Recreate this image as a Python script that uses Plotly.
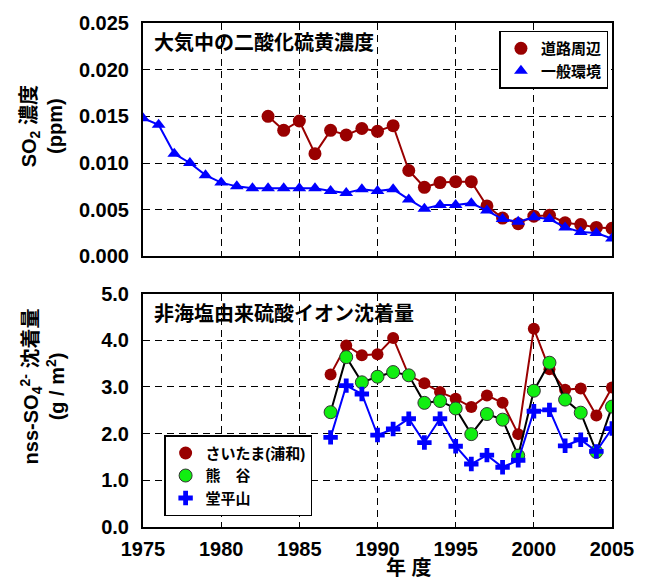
import plotly.graph_objects as go
from plotly.subplots import make_subplots

# --- SO2 concentration (ppm) ---
years_road = list(range(1983, 2006))
so2_road = [0.0150, 0.0135, 0.0145, 0.0110, 0.0135, 0.0130, 0.0137, 0.0134, 0.0140,
            0.0092, 0.0074, 0.0079, 0.0080, 0.0080, 0.0054, 0.0041, 0.0035, 0.0043,
            0.0044, 0.0036, 0.0034, 0.0031, 0.0030]
years_general = list(range(1975, 2006))
so2_general = [0.0148, 0.0141, 0.0110, 0.0100, 0.0087, 0.0079, 0.0075, 0.0073, 0.0073,
               0.0073, 0.0073, 0.0073, 0.0070, 0.0068, 0.0072, 0.0070, 0.0072, 0.0061,
               0.0051, 0.0055, 0.0055, 0.0057, 0.0049, 0.0040, 0.0037, 0.0042, 0.0040,
               0.0031, 0.0026, 0.0025, 0.0019]

# --- nss-SO4 deposition (g/m2) ---
years_dep = list(range(1987, 2006))
dep_saitama = [3.27, 3.89, 3.68, 3.70, 4.05, 3.25, 3.08, 2.89, 2.75, 2.57, 2.82, 2.66,
               1.99, 4.25, 3.38, 2.94, 2.97, 2.39, 2.99]
dep_kumagaya = [2.46, 3.64, 3.10, 3.22, 3.32, 3.25, 2.66, 2.70, 2.54, 1.99, 2.42, 2.30,
                1.53, 2.92, 3.52, 2.73, 2.45, 1.61, 2.58]
dep_dodaira = [1.92, 3.03, 2.85, 1.97, 2.10, 2.32, 1.81, 2.32, 1.73, 1.35, 1.54, 1.28,
               1.43, 2.48, 2.51, 1.74, 1.87, 1.62, 2.11]

x_ticks = [1975, 1980, 1985, 1990, 1995, 2000, 2005]
so2_ticks = [0.000, 0.005, 0.010, 0.015, 0.020, 0.025]
dep_ticks = [0.0, 1.0, 2.0, 3.0, 4.0, 5.0]

DARKRED = "#990000"
GREEN = "#11ee11"
BLUE = "#0000ff"
FONT = "Liberation Sans, Arial, Noto Sans CJK JP"

fig = make_subplots(rows=2, cols=1, vertical_spacing=0.074, shared_xaxes=False)

# top panel
fig.add_trace(go.Scatter(x=years_road, y=so2_road, mode="lines+markers",
                         line=dict(color=DARKRED, width=2),
                         marker=dict(symbol="circle", size=13, color=DARKRED),
                         showlegend=False), row=1, col=1)
fig.add_trace(go.Scatter(x=years_general, y=so2_general, mode="lines+markers",
                         line=dict(color=BLUE, width=2),
                         marker=dict(symbol="triangle-up", size=12, color=BLUE),
                         showlegend=False), row=1, col=1)
fig.add_trace(go.Scatter(x=[None], y=[None], mode="markers", name="道路周辺",
                         marker=dict(symbol="circle", size=13, color=DARKRED),
                         legend="legend"), row=1, col=1)
fig.add_trace(go.Scatter(x=[None], y=[None], mode="markers", name="一般環境",
                         marker=dict(symbol="triangle-up", size=12, color=BLUE),
                         legend="legend"), row=1, col=1)

# bottom panel
fig.add_trace(go.Scatter(x=years_dep, y=dep_saitama, mode="lines+markers",
                         line=dict(color=DARKRED, width=2),
                         marker=dict(symbol="circle", size=12, color=DARKRED),
                         showlegend=False), row=2, col=1)
fig.add_trace(go.Scatter(x=years_dep, y=dep_kumagaya, mode="lines+markers",
                         line=dict(color="black", width=2),
                         marker=dict(symbol="circle", size=13, color=GREEN,
                                     line=dict(color="#333333", width=1)),
                         showlegend=False), row=2, col=1)
fig.add_trace(go.Scatter(x=years_dep, y=dep_dodaira, mode="lines+markers",
                         line=dict(color=BLUE, width=2),
                         marker=dict(symbol="cross", size=12, color=BLUE),
                         showlegend=False), row=2, col=1)
fig.add_trace(go.Scatter(x=[None], y=[None], mode="markers", name="さいたま(浦和)",
                         marker=dict(symbol="circle", size=13, color=DARKRED),
                         legend="legend2"), row=2, col=1)
fig.add_trace(go.Scatter(x=[None], y=[None], mode="markers", name="熊　谷",
                         marker=dict(symbol="circle", size=13, color=GREEN,
                                     line=dict(color="#333333", width=1)),
                         legend="legend2"), row=2, col=1)
fig.add_trace(go.Scatter(x=[None], y=[None], mode="markers", name="堂平山",
                         marker=dict(symbol="cross", size=12, color=BLUE),
                         legend="legend2"), row=2, col=1)

axis_common = dict(showline=True, linecolor="black", linewidth=2, mirror=True,
                   showgrid=True, gridcolor="black", gridwidth=1.2, griddash="7px,5px",
                   zeroline=False, ticks="",
                   tickfont=dict(family=FONT, size=20, color="black", weight="bold"))

fig.update_xaxes(**axis_common, range=[1975, 2005], tickvals=x_ticks,
                 ticklabelstandoff=3)
fig.update_xaxes(showticklabels=False, row=1, col=1)
fig.update_yaxes(**axis_common, ticklabelstandoff=8)
fig.update_yaxes(range=[0, 0.025], tickvals=so2_ticks,
                 ticktext=[f"{v:.3f}" for v in so2_ticks], row=1, col=1)
fig.update_yaxes(range=[0, 5.0], tickvals=dep_ticks,
                 ticktext=[f"{v:.1f}" for v in dep_ticks], row=2, col=1)

legend_style = dict(bgcolor="white", bordercolor="black", borderwidth=1.5,
                    font=dict(family=FONT, size=15, color="black", weight="bold"),
                    xanchor="left", yanchor="top", tracegroupgap=0)

title_font = dict(family=FONT, size=20, color="black", weight="bold")
axis_title_font = dict(family=FONT, size=20, color="black", weight="bold")

fig.update_layout(
    width=646, height=579,
    margin=dict(l=143, r=32, t=15, b=52),
    paper_bgcolor="white", plot_bgcolor="white",
    legend=dict(**legend_style, x=0.76, y=0.985),
    legend2=dict(**legend_style, x=0.045, y=0.182),
    annotations=[
        dict(text="大気中の二酸化硫黄濃度", xref="x domain", yref="y domain",
             x=0.02, y=1, yshift=-20, xanchor="left", yanchor="middle",
             showarrow=False, font=title_font),
        dict(text="非海塩由来硫酸イオン沈着量", xref="x2 domain", yref="y2 domain",
             x=0.02, y=1, yshift=-20, xanchor="left", yanchor="middle",
             showarrow=False, font=title_font),
        dict(text="SO<sub>2</sub> 濃度<br>(ppm)", xref="paper", yref="paper",
             x=0, y=0.795, xshift=-101, xanchor="center", yanchor="middle",
             textangle=-90, showarrow=False, font=axis_title_font),
        dict(text="nss-SO<sub>4</sub><sup>2-</sup> 沈着量<br>(g / m<sup>2</sup>)",
             xref="paper", yref="paper",
             x=0, y=0.279, xshift=-101, xanchor="center", yanchor="middle",
             textangle=-90, showarrow=False, font=axis_title_font),
        dict(text="年 度", xref="paper", yref="paper", x=0.568, y=0,
             yshift=-41, xanchor="center", yanchor="middle", showarrow=False,
             font=title_font),
    ],
)

fig.write_html("out.html")
